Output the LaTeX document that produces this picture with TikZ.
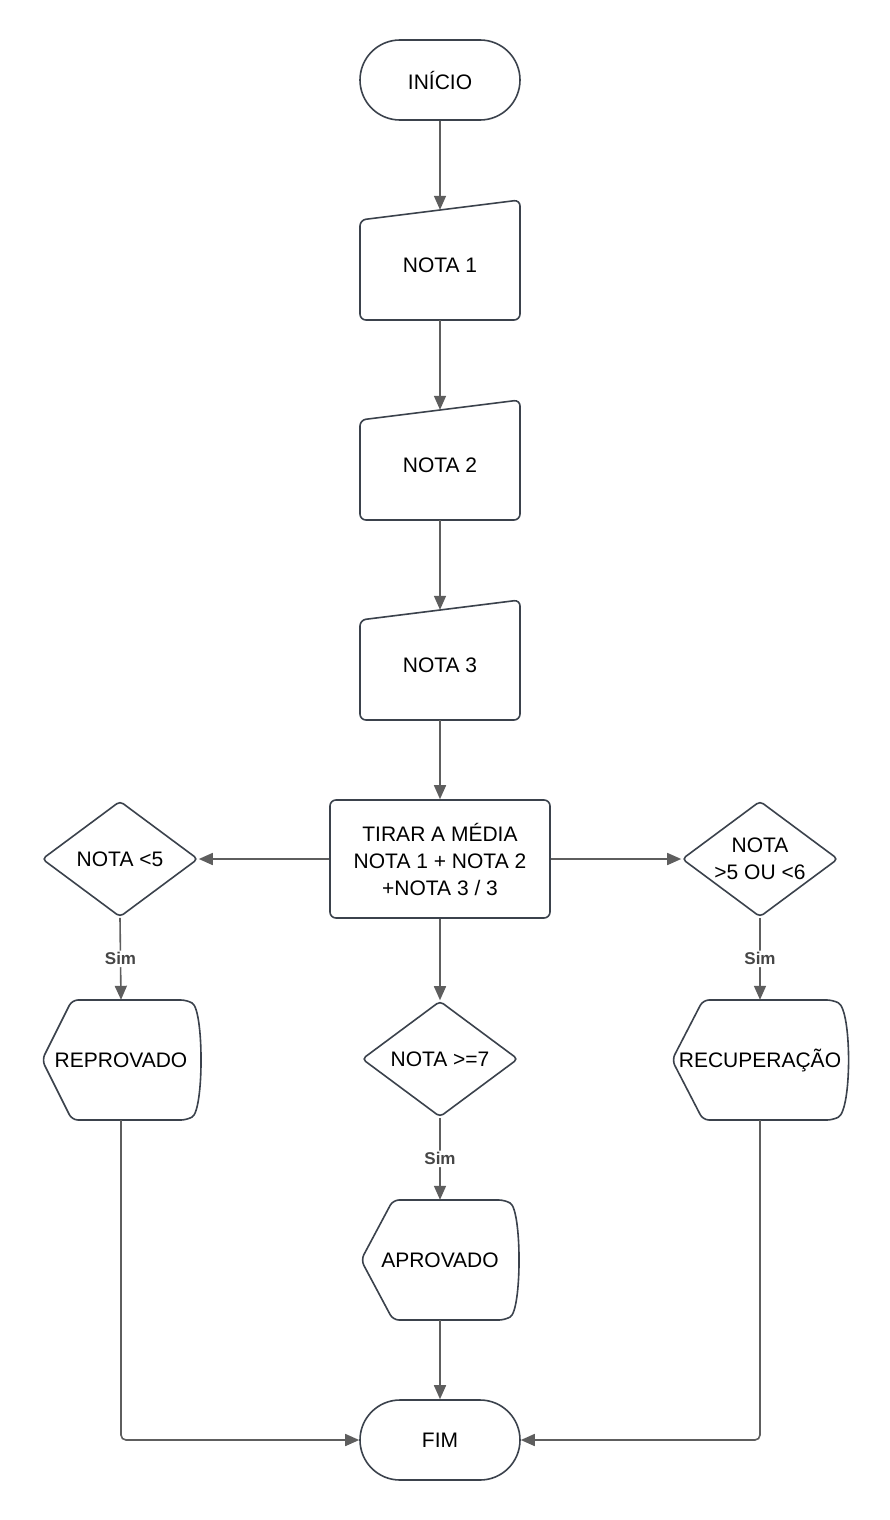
\documentclass[tikz,border=0pt]{standalone}
\usepackage{fontspec}
\setmainfont{Liberation Sans}
\usetikzlibrary{arrows.meta,shapes.geometric}
\definecolor{edgec}{HTML}{3B424C}
\definecolor{linec}{HTML}{5E5E5E}
\begin{document}
\begin{tikzpicture}[x=1pt,y=-1pt,
  every node/.style={font=\fontsize{21}{27}\selectfont, align=center, inner sep=0pt, text=black},
  term/.style={draw=edgec, line width=1.6pt, rounded corners=40pt, minimum width=160pt, minimum height=80pt},
  txt/.style={minimum width=150pt},
  box/.style={draw=edgec, line width=1.6pt, rounded corners=6pt, minimum width=220pt, minimum height=118pt},
  dia/.style={diamond, draw=edgec, line width=1.6pt, rounded corners=4pt, minimum width=156pt, minimum height=116pt, aspect=1.35},
  outl/.style={draw=edgec, line width=1.6pt, rounded corners=6pt},
  conn/.style={draw=linec, line width=1.6pt, -{Triangle[length=14pt,width=12pt]}, rounded corners=5pt},
  lab/.style={fill=white, font=\bfseries\fontsize{17}{20}\selectfont, text=linec!75!black, inner sep=2pt}
]
\fill[white] (0,0) rectangle (890,1520);
\useasboundingbox (0,0) rectangle (890,1520);

% shape outlines
\draw[outl] (360,220) -- (520,200) -- (520,320) -- (360,320) -- cycle;
\draw[outl] (360,420) -- (520,400) -- (520,520) -- (360,520) -- cycle;
\draw[outl] (360,620) -- (520,600) -- (520,720) -- (360,720) -- cycle;
\draw[outl] (42,1060) -- (72,1000) -- (187,1000) .. controls (204,1010) and (204,1110) .. (187,1120) -- (72,1120) -- cycle;
\draw[outl] (361,1260) -- (393,1200) -- (505,1200) .. controls (522,1210) and (522,1310) .. (505,1320) -- (393,1320) -- cycle;
\draw[outl] (672,1060) -- (703,1000) -- (833,1000) .. controls (852,1010) and (852,1110) .. (833,1120) -- (703,1120) -- cycle;

% nodes
\node[term] (ini) at (440,80) {INÍCIO};
\node[txt, minimum height=110pt] (n1) at (440,265) {\raisebox{-4pt}{NOTA 1}};
\node[txt, minimum height=110pt] (n2) at (440,465) {\raisebox{-4pt}{NOTA 2}};
\node[txt, minimum height=110pt] (n3) at (440,665) {\raisebox{-4pt}{NOTA 3}};
\node[box] (med) at (440,859) {TIRAR A MÉDIA\\NOTA 1 + NOTA 2\\+NOTA 3 / 3};
\node[dia] (d1) at (120,859) {NOTA <5};
\node[dia] (d3) at (760,859) {NOTA\\>5 OU <6};
\node[dia] (d2) at (440,1059) {NOTA >=7};
\node[txt, minimum height=120pt] (rep) at (121,1060) {REPROVADO};
\node[txt, minimum height=120pt] (apr) at (440,1260) {APROVADO};
\node[txt, minimum height=120pt] (rec) at (760,1060) {RECUPERAÇÃO};
\node[term] (fim) at (440,1440) {FIM};

% connectors
\draw[conn] (ini.south) -- (n1.north);
\draw[conn] (n1.south) -- (n2.north);
\draw[conn] (n2.south) -- (n3.north);
\draw[conn] (n3.south) -- (med.north);
\draw[conn] (med.west) -- (d1.east);
\draw[conn] (med.east) -- (d3.west);
\draw[conn] (med.south) -- (d2.north);
\draw[conn] (d1.south) -- node[lab] (s1) {Sim} (rep.north);
\draw[conn] (d3.south) -- node[lab] (s3) {Sim} (rec.north);
\draw[conn] (d2.south) -- node[lab] (s2) {Sim} (apr.north);
\draw[conn] (apr.south) -- (fim.north);
\draw[conn] (rep.south) |- (fim.west);
\draw[conn] (rec.south) |- (fim.east);
\end{tikzpicture}
\end{document}
